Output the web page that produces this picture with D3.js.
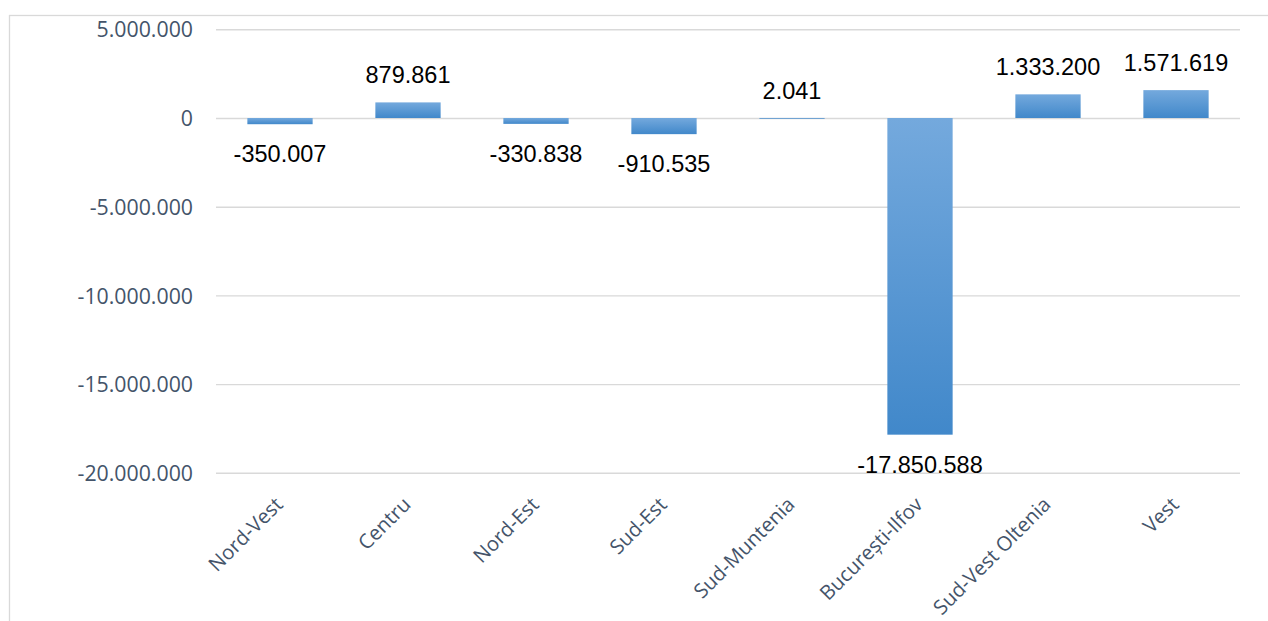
<!DOCTYPE html>
<html><head><meta charset="utf-8">
<script src="https://cdn.jsdelivr.net/npm/d3@7"></script>
<style>html,body{margin:0;padding:0;background:#fff;}svg{display:block;}</style>
</head><body>
<svg id="chart" width="1268" height="621"></svg>
<script>
const categories = ["Nord-Vest","Centru","Nord-Est","Sud-Est","Sud-Muntenia","București-Ilfov","Sud-Vest Oltenia","Vest"];
const values = [-350007, 879861, -330838, -910535, 2041, -17850588, 1333200, 1571619];
const yTicks = [5000000, 0, -5000000, -10000000, -15000000, -20000000];

const svg = d3.select("#chart");
const W = 1268, H = 621;
const plot = {left: 216, right: 1240, top: 29.3, bottom: 472.8};

const loc = d3.formatLocale({decimal: ",", thousands: ".", grouping: [3], currency: ["", ""], minus: "-"});
const fmt = loc.format(",d");

// chart border
svg.append("rect").attr("x", 9.5).attr("y", 15.5).attr("width", W + 20).attr("height", H + 20)
  .attr("fill", "none").attr("stroke", "#d9d9d9").attr("stroke-width", 1.3);

const x = d3.scaleBand().domain(categories).range([plot.left, plot.right]).paddingInner(0.49).paddingOuter(0.245);
const y = d3.scaleLinear().domain([-20000000, 5000000]).range([plot.bottom, plot.top]);

const defs = svg.append("defs");
const grad = defs.append("linearGradient").attr("id", "barGrad").attr("x1", 0).attr("y1", 0).attr("x2", 0).attr("y2", 1);
grad.append("stop").attr("offset", "0%").attr("stop-color", "#74a9dd");
grad.append("stop").attr("offset", "100%").attr("stop-color", "#4188ca");

// gridlines
const yAxis = d3.axisLeft(y).tickValues(yTicks).tickSize(plot.right - plot.left).tickFormat(fmt).tickPadding(23);
const gy = svg.append("g").attr("transform", `translate(${plot.right},0)`).call(yAxis);
gy.select(".domain").remove();
gy.selectAll(".tick line").attr("stroke", "#d9d9d9").attr("stroke-width", 1.4);
gy.selectAll(".tick text").attr("fill", "#44546a").attr("font-family", "'Open Sans', sans-serif")
  .attr("font-size", 21.3).attr("dy", "0.36em");

// bars
svg.append("g").selectAll("rect").data(values).join("rect")
  .attr("x", (d, i) => x(categories[i]))
  .attr("width", x.bandwidth())
  .attr("y", d => y(Math.max(0, d)))
  .attr("height", d => Math.max(0.8, Math.abs(y(d) - y(0))))
  .attr("fill", "url(#barGrad)");

// data labels
svg.append("g").selectAll("text").data(values).join("text")
  .attr("x", (d, i) => x(categories[i]) + x.bandwidth() / 2)
  .attr("y", d => d >= 0 ? y(d) - 19 : y(d) + 38)
  .attr("text-anchor", "middle")
  .attr("font-family", "'Liberation Sans', Arial, sans-serif")
  .attr("font-size", 23.5)
  .attr("fill", "#000")
  .text(d => fmt(d));

// category labels
const xAxis = d3.axisBottom(x).tickSize(0).tickPadding(0);
const gx = svg.append("g").attr("transform", `translate(0,${plot.bottom})`).call(xAxis);
gx.select(".domain").remove();
gx.selectAll(".tick text")
  .attr("fill", "#44546a").attr("font-family", "'Open Sans', sans-serif").attr("font-size", 20.2)
  .attr("text-anchor", "end").attr("dy", 0).attr("y", 0)
  .attr("transform", "translate(4,33) rotate(-45)");
</script>
</body></html>
